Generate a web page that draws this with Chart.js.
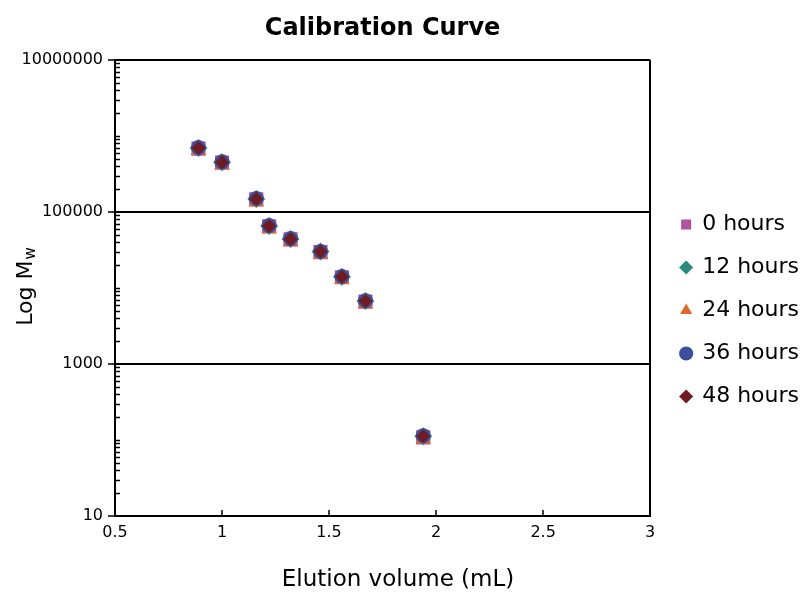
<!DOCTYPE html>
<html>
<head>
<meta charset="utf-8">
<title>Calibration Curve</title>
<script src="https://cdn.jsdelivr.net/npm/chart.js@4.4.0/dist/chart.umd.min.js"></script>
<style>
  html, body { margin: 0; padding: 0; background: #fff; }
  #wrap { width: 807px; height: 593px; }
</style>
</head>
<body>
<div id="wrap"><canvas id="myChart" width="807" height="593"></canvas></div>
<script>
'use strict';

// elution volume (mL) of the standards
let elutionVolume = [0.89, 1.00, 1.16, 1.22, 1.32, 1.46, 1.56, 1.67, 1.94];

// molecular weight, one list per sampling time
let mw0h  = [680000, 445000, 146000, 64500, 43500, 29500, 13800, 6600, 108];
let mw12h = [690000, 450000, 148000, 65000, 44000, 30000, 14000, 6700, 112];
let mw24h = [640000, 415000, 136000, 60000, 40500, 27500, 12900, 6200, 103];
let mw36h = [700000, 455000, 150000, 66000, 44500, 30200, 14100, 6800, 114];
let mw48h = [690000, 450000, 148000, 65000, 44000, 30000, 14000, 6700, 112];

let seriesNames = ['0 hours', '12 hours', '24 hours', '36 hours', '48 hours'];
let yTickLabels = [10, 1000, 100000, 10000000];
let xTickLabels = [0.5, 1, 1.5, 2, 2.5, 3];

let fontName = '"DejaVu Sans", Verdana, sans-serif';

function makePoints(ys){
  let pts = [];
  for(let i = 0; i < elutionVolume.length; i++){
    pts.push({x: elutionVolume[i], y: ys[i]});
  }
  return pts;
}

function isMajor(v){
  return yTickLabels.includes(v);
}

// minor ticks, x ticks and the two axis titles
let axisExtras = {
  id: 'axisExtras',
  afterLayout(chart){
    // nudge the legend a little right and down
    chart.legend.left += 10;
    chart.legend.right += 10;
    chart.legend.top += 14;
    chart.legend.bottom += 14;
  },
  afterDraw(chart){
    let ctx = chart.ctx;
    let xs = chart.scales.x;
    let ys = chart.scales.y;
    let area = chart.chartArea;
    ctx.save();
    ctx.strokeStyle = '#000';
    ctx.lineWidth = 1.5;
    ctx.beginPath();
    ys.ticks.forEach(function(t){
      if(isMajor(t.value)) return;
      let py = Math.round(ys.getPixelForValue(t.value)) + 0.5;
      ctx.moveTo(area.left, py);
      ctx.lineTo(area.left + 5, py);
    });
    xs.ticks.forEach(function(t){
      let px = Math.round(xs.getPixelForValue(t.value));
      ctx.moveTo(px, area.bottom);
      ctx.lineTo(px, area.bottom - 6);
    });
    ctx.stroke();

    ctx.fillStyle = '#000';
    ctx.textBaseline = 'middle';
    ctx.textAlign = 'center';
    ctx.font = '23px ' + fontName;
    ctx.fillText('Elution volume (mL)', 398, 580);

    ctx.translate(26, 287);
    ctx.rotate(-Math.PI / 2);
    ctx.textAlign = 'left';
    ctx.font = '22px ' + fontName;
    let w1 = ctx.measureText('Log M').width;
    ctx.font = '15px ' + fontName;
    let w2 = ctx.measureText('w').width;
    let start = -(w1 + w2) / 2;
    ctx.font = '22px ' + fontName;
    ctx.fillText('Log M', start, 0);
    ctx.font = '15px ' + fontName;
    ctx.fillText('w', start + w1 + 1, 5);
    ctx.restore();
  }
};

let ctx = document.getElementById('myChart').getContext('2d');
let myChart = new Chart(ctx, {
  type: 'scatter',
  data: {
    datasets: [{
      label: seriesNames[0],
      data: makePoints(mw0h),
      pointStyle: 'rect',
      pointRadius: 10,
      backgroundColor: '#b2519f',
      borderColor: '#b2519f',
      borderWidth: 0,
      order: 5
    }, {
      label: seriesNames[1],
      data: makePoints(mw12h),
      pointStyle: 'rectRot',
      pointRadius: 9,
      backgroundColor: '#2b8a7b',
      borderColor: '#2b8a7b',
      borderWidth: 0,
      order: 4
    }, {
      label: seriesNames[2],
      data: makePoints(mw24h),
      pointStyle: 'triangle',
      pointRadius: 9,
      backgroundColor: '#e2692c',
      borderColor: '#e2692c',
      borderWidth: 0,
      order: 3
    }, {
      label: seriesNames[3],
      data: makePoints(mw36h),
      pointStyle: 'circle',
      pointRadius: 7.5,
      backgroundColor: '#3b4f9c',
      borderColor: '#3b4f9c',
      borderWidth: 0,
      order: 2
    }, {
      label: seriesNames[4],
      data: makePoints(mw48h),
      pointStyle: 'rectRot',
      pointRadius: 7,
      backgroundColor: '#6f1b22',
      borderColor: '#6f1b22',
      borderWidth: 0,
      order: 1
    }]
  },
  options: {
    responsive: false,
    animation: false,
    layout: { padding: { left: 0, right: 8, top: 0, bottom: 0 } },
    plugins: {
      tooltip: { enabled: false },
      title: {
        display: true,
        fullSize: false,
        text: 'Calibration Curve',
        color: '#000',
        font: { family: fontName, size: 24, weight: 'bold' },
        padding: { top: 14, bottom: 17 }
      },
      legend: {
        position: 'right',
        labels: {
          usePointStyle: true,
          boxWidth: 10,
          boxHeight: 10,
          padding: 21,
          color: '#000',
          font: { family: fontName, size: 22 },
          sort: function(a, b){ return a.datasetIndex - b.datasetIndex; }
        }
      }
    },
    scales: {
      x: {
        type: 'linear',
        min: 0.5,
        max: 3,
        afterBuildTicks: function(scale){
          scale.ticks = xTickLabels.map(function(v){ return {value: v}; });
        },
        afterFit: function(scale){ scale.height = 77; },
        border: { color: '#000', width: 2 },
        grid: {
          drawTicks: false,
          lineWidth: 2,
          color: function(c){ return c.tick && c.tick.value === 3 ? '#000' : 'rgba(0,0,0,0)'; }
        },
        ticks: {
          padding: 7,
          color: '#000',
          font: { family: fontName, size: 16 },
          callback: function(v){ return String(v); }
        }
      },
      y: {
        type: 'logarithmic',
        min: 10,
        max: 10000000,
        afterBuildTicks: function(scale){
          let list = [];
          for(let p = 1; p <= 7; p++){
            for(let m = 1; m <= 9; m++){
              let v = m * Math.pow(10, p);
              if(v > 10000000) break;
              list.push({value: v, major: isMajor(v)});
            }
          }
          scale.ticks = list;
        },
        afterFit: function(scale){ scale.width = 115; },
        border: { color: '#000', width: 2 },
        grid: {
          tickLength: 7,
          lineWidth: 2,
          color: function(c){ return c.tick && isMajor(c.tick.value) ? '#000' : 'rgba(0,0,0,0)'; },
          tickColor: function(c){ return c.tick && isMajor(c.tick.value) ? '#000' : 'rgba(0,0,0,0)'; },
          tickWidth: 1.5
        },
        ticks: {
          autoSkip: false,
          padding: 5,
          color: '#000',
          font: { family: fontName, size: 16 },
          callback: function(v){ return isMajor(v) ? String(v) : ''; }
        }
      }
    }
  },
  plugins: [axisExtras]
});
</script>
</body>
</html>
